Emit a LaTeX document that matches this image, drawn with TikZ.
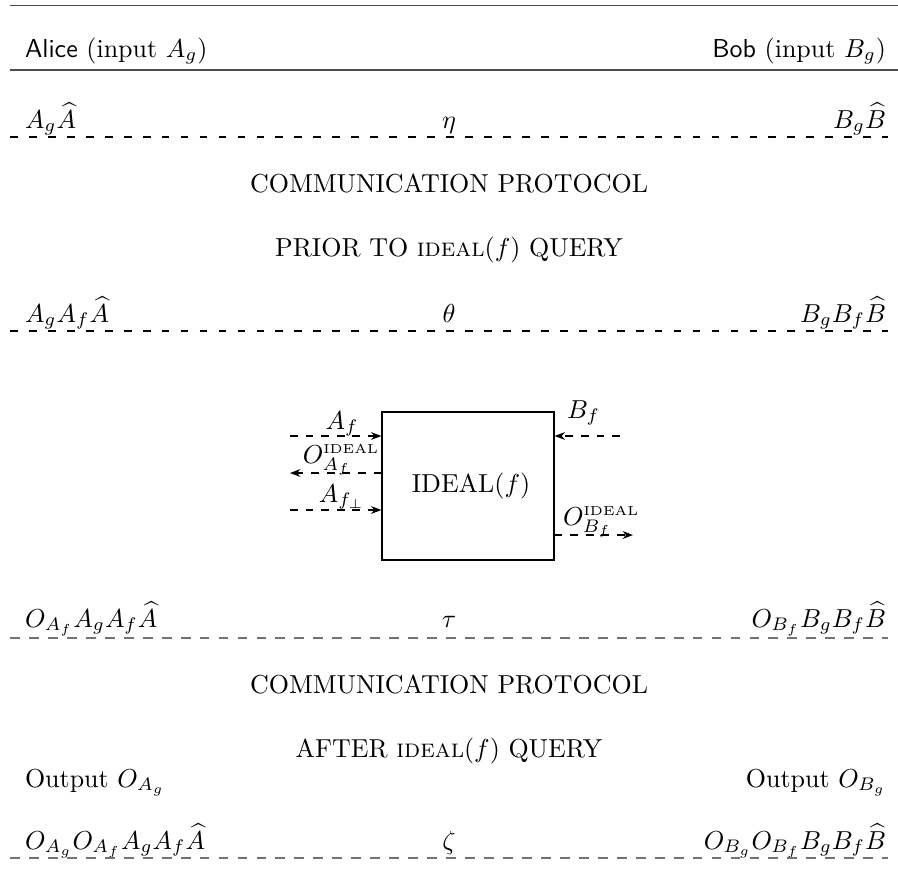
\documentclass[tikz,border=0pt]{standalone}
\usetikzlibrary{arrows.meta}
\begin{document}
\begin{tikzpicture}[x=0.385pt,y=-0.385pt,
  solidrule/.style={line width=0.7pt, black!70},
  septhin/.style={dash pattern=on 3pt off 4.3pt, line width=0.4pt, black},
  sepgray/.style={dash pattern=on 3.8pt off 3.5pt, line width=0.8pt, black!55},
  txt/.style={inner sep=0pt, outer sep=0pt},
  arr/.style={dashed, line width=0.4pt, -{Stealth[length=4pt,width=3pt]}},
  idealbox/.style={draw, line width=0.5pt, minimum width=66.2pt, minimum height=57pt, inner sep=0pt}]
\useasboundingbox (0,0) rectangle (898,869);
% top rules
\coordinate (t1a) at (10,5.5);  \coordinate (t1b) at (898,5.5);
\coordinate (t2a) at (10,70);   \coordinate (t2b) at (898,70);
\draw[solidrule] (t1a) -- (t1b);
\draw[solidrule] (t2a) -- (t2b);
\node[txt, anchor=base west] (alice) at (25,57) {\textsf{Alice} (input $A_g$)};
\node[txt, anchor=base east] (bob) at (886,57) {\textsf{Bob} (input $B_g$)};
% row eta
\node[txt, anchor=base west] (ra1) at (25,128) {$A_g\widehat{A}$};
\node[txt, anchor=base] (eta) at (449,128) {$\eta$};
\node[txt, anchor=base east] (rb1) at (886,128) {$B_g\widehat{B}$};
\coordinate (d1a) at (10,137); \coordinate (d1b) at (888,137);
\draw[septhin] (d1a) -- (d1b);
% protocol 1
\node[txt, anchor=base] (cp1) at (449,192) {COMMUNICATION PROTOCOL};
\node[txt, anchor=base] (pr1) at (449,256) {PRIOR TO \textsc{ideal}$(f)$ QUERY};
% row theta
\node[txt, anchor=base west] (ra2) at (25,322) {$A_gA_f\widehat{A}$};
\node[txt, anchor=base] (theta) at (449,322) {$\theta$};
\node[txt, anchor=base east] (rb2) at (886,322) {$B_gB_f\widehat{B}$};
\coordinate (d2a) at (10,331); \coordinate (d2b) at (888,331);
\draw[septhin] (d2a) -- (d2b);
% ideal box
\node[idealbox] (ideal) at (468,486) {\hspace*{2.3pt}IDEAL$(f)$};
\coordinate (aL1) at (290,436);
\coordinate (aL2) at (290,473);
\coordinate (aL3) at (290,510);
\coordinate (bR1) at (620,436);
\coordinate (bR2) at (633,535);
\draw[arr] (aL1) -- (aL1 -| ideal.west);
\draw[arr] (aL2 -| ideal.west) -- (aL2);
\draw[arr] (aL3) -- (aL3 -| ideal.west);
\draw[arr] (bR1) -- (bR1 -| ideal.east);
\draw[arr] (bR2 -| ideal.east) -- (bR2);
\node[txt, anchor=base] (lAf) at (342,429) {$A_f$};
\node[txt, anchor=base] (lOAf) at (341,463) {$O_{A_f}^{\scriptscriptstyle\mathrm{IDEAL}}$};
\node[txt, anchor=base] (lAfp) at (342,502) {$A_{f_\perp}$};
\node[txt, anchor=base west] (lBf) at (567,418) {$B_f$};
\node[txt, anchor=base west] (lOBf) at (563,525) {$O_{B_f}^{\scriptscriptstyle\mathrm{IDEAL}}$};
% row tau
\node[txt, anchor=base west] (ra3) at (25,627) {$O_{A_f}A_gA_f\widehat{A}$};
\node[txt, anchor=base] (tau) at (449,627) {$\tau$};
\node[txt, anchor=base east] (rb3) at (886,627) {$O_{B_f}B_gB_f\widehat{B}$};
\coordinate (d3a) at (10,638); \coordinate (d3b) at (888,638);
\draw[sepgray] (d3a) -- (d3b);
% protocol 2
\node[txt, anchor=base] (cp2) at (449,693) {COMMUNICATION PROTOCOL};
\node[txt, anchor=base] (af2) at (449,757) {AFTER \textsc{ideal}$(f)$ QUERY};
\node[txt, anchor=base west] (outa) at (25,787) {Output $O_{A_g}$};
\node[txt, anchor=base east] (outb) at (886,787) {Output $O_{B_g}$};
% row zeta
\node[txt, anchor=base west] (ra4) at (25,849) {$O_{A_g}O_{A_f}A_gA_f\widehat{A}$};
\node[txt, anchor=base] (zeta) at (449,849) {$\zeta$};
\node[txt, anchor=base east] (rb4) at (886,849) {$O_{B_g}O_{B_f}B_gB_f\widehat{B}$};
\coordinate (d4a) at (10,858); \coordinate (d4b) at (888,858);
\draw[sepgray] (d4a) -- (d4b);
\end{tikzpicture}
\end{document}
